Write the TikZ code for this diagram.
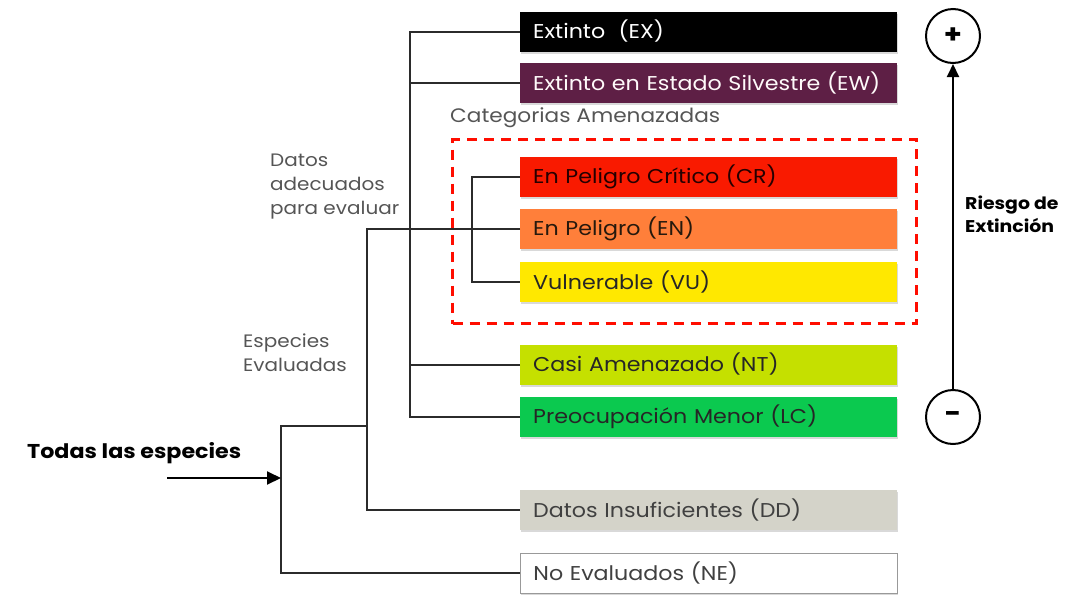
\documentclass[tikz,border=0pt]{standalone}
\usepackage{fontspec}
\setmainfont{Poppins}[FakeStretch=1.11]
\usetikzlibrary{shadows,arrows.meta}
\definecolor{cEW}{HTML}{5E1F45}
\definecolor{cCR}{HTML}{F91A00}
\definecolor{cEN}{HTML}{FF7F3A}
\definecolor{cVU}{HTML}{FFE800}
\definecolor{cNT}{HTML}{C5E000}
\definecolor{cLC}{HTML}{0BC94F}
\definecolor{cDD}{HTML}{D4D3C9}
\definecolor{lineC}{HTML}{2B2B2B}
\definecolor{labC}{HTML}{555555}
\begin{document}
\begin{tikzpicture}[x=1pt,y=-1pt,
  catbox/.style={rectangle, anchor=west, minimum width=377pt, minimum height=40pt,
    text width=351pt, align=left, inner xsep=13pt, inner ysep=0pt,
    font=\fontsize{20}{22}\selectfont,
    drop shadow={opacity=0.3, shadow xshift=1pt, shadow yshift=-2pt}},
  conn/.style={draw=lineC, line width=2pt},
  lab/.style={text=labC, font=\fontsize{18}{24}\selectfont, align=left, inner sep=0pt},
  riskc/.style={circle, draw=black, line width=2pt, minimum size=54pt, inner sep=0pt, fill=white,
    font=\bfseries\fontsize{26}{26}\selectfont}
]
\useasboundingbox (0,0) rectangle (1074,595);

% boxes
\node[catbox, fill=black, text=white] (EX) at (520,31.5) {Extinto\ \ (EX)};
\node[catbox, fill=cEW, text=white!92!pink] (EW) at (520,83) {Extinto en Estado Silvestre (EW)};
\node[catbox, fill=cCR, text=black!85!red] (CR) at (520,177) {En Peligro Crítico (CR)};
\node[catbox, fill=cEN, text=black!80!brown] (EN) at (520,229) {En Peligro (EN)};
\node[catbox, fill=cVU, text=black!85] (VU) at (520,282) {Vulnerable (VU)};
\node[catbox, fill=cNT, text=black!85] (NT) at (520,364.5) {Casi Amenazado (NT)};
\node[catbox, fill=cLC, text=black!85] (LC) at (520,417) {Preocupación Menor (LC)};
\node[catbox, fill=cDD, text=black!75] (DD) at (520,510) {Datos Insuficientes (DD)};
\node[catbox, fill=white, draw=black!40, line width=0.8pt, text=black!75] (NE) at (520,573) {No Evaluados (NE)};

% dashed threatened frame
\node[draw=red!90!orange, dashed, dash pattern=on 10pt off 7pt, line width=3pt,
  minimum width=464pt, minimum height=184pt, anchor=north west, inner sep=0pt] (THR) at (451,138) {};
\node[lab, anchor=west, font=\fontsize{19.5}{24}\selectfont] (THRlab) at (450,118) {Categorias Amenazadas};

% junction coordinates
\coordinate (b1) at (410,229);
\coordinate (b2) at (367,426);
\coordinate (b3) at (281,478);
\coordinate (b4) at (472,229);
\coordinate (start) at (167,478);

% connectors
\draw[conn] (EX.west) -- (EX.west -| b1) -- (LC.west -| b1) -- (LC.west);
\draw[conn] (EW.west) -- (EW.west -| b1);
\draw[conn] (NT.west) -- (NT.west -| b1);
\draw[conn] (EN.west) -- (EN.west -| b2) -- (DD.west -| b2) -- (DD.west);
\draw[conn] (CR.west) -- (CR.west -| b4) -- (VU.west -| b4) -- (VU.west);
\draw[conn] (b2) -- (b2 -| b3) -- (NE.west -| b3) -- (NE.west);
\draw[conn, draw=black, -{Triangle[length=14pt,width=13pt]}] (start) -- (b3);

% labels
\node[lab, anchor=north west] (datos) at (270,154) {Datos\\adecuados\\para evaluar};
\node[lab, anchor=north west] (espec) at (243,334) {Especies\\Evaluadas};
\node[anchor=west, inner sep=0pt, font=\bfseries\fontsize{20}{20}\selectfont] (todas) at (27,453) {Todas las especies};

% risk axis
\node[riskc] (plus) at (953,36) {+};
\node[riskc] (minus) at (953,417) {-};
\draw[line width=2pt, -{Triangle[length=13pt,width=12pt]}] (minus) -- (plus);
\node[anchor=west, align=left, inner sep=0pt, font=\bfseries\fontsize{17}{23}\selectfont] (risk) at (965,214) {Riesgo de\\Extinción};
\end{tikzpicture}
\end{document}
